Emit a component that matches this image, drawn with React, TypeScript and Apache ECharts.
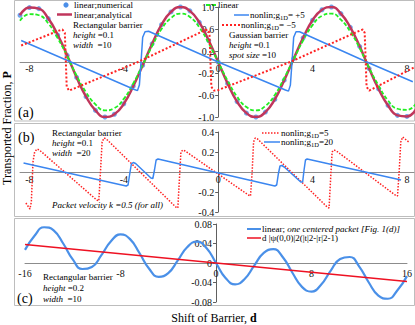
import React, { useEffect, useRef } from 'react';
import * as echarts from 'echarts';

const SERIF = '"Liberation Serif", "Times New Roman", serif';

// ---------- Panel (a) ----------
const D_A = [-8.4, -8.0, -7.6, -7.2, -6.8, -6.4, -6.0, -5.6, -5.2, -4.8, -4.4, -4.0, -3.6, -3.2, -2.8, -2.4, -2.0, -1.6, -1.2, -0.8, -0.4, 0, 0.4, 0.8, 1.2, 1.6, 2.0, 2.4, 2.8, 3.2, 3.6, 4.0, 4.4, 4.8, 5.2, 5.6, 6.0, 6.4, 6.8, 7.2, 7.6, 8.0, 8.4];
const A_NUMERICAL = [0.85, 0.99, 0.97, 0.79, 0.49, 0.12, -0.28, -0.63, -0.88, -1.0, -0.95, -0.76, -0.44, -0.06, 0.33, 0.68, 0.91, 1.0, 0.93, 0.72, 0.39, 0, -0.39, -0.72, -0.93, -1.0, -0.91, -0.68, -0.33, 0.06, 0.44, 0.76, 0.95, 1.0, 0.88, 0.63, 0.28, -0.12, -0.49, -0.79, -0.97, -0.99, -0.85];
const A_ANALYTICAL = [0.85, 0.99, 0.97, 0.79, 0.49, 0.12, -0.28, -0.63, -0.88, -1.0, -0.95, -0.76, -0.44, -0.06, 0.33, 0.68, 0.91, 1.0, 0.93, 0.72, 0.39, 0, -0.39, -0.72, -0.93, -1.0, -0.91, -0.68, -0.33, 0.06, 0.44, 0.76, 0.95, 1.0, 0.88, 0.63, 0.28, -0.12, -0.49, -0.79, -0.97, -0.99, -0.85];
const A_LINEAR = [0.75, 0.87, 0.85, 0.70, 0.43, 0.11, -0.25, -0.55, -0.77, -0.88, -0.84, -0.67, -0.39, -0.05, 0.29, 0.60, 0.80, 0.88, 0.82, 0.63, 0.34, 0, -0.34, -0.63, -0.82, -0.88, -0.80, -0.60, -0.29, 0.05, 0.39, 0.67, 0.84, 0.88, 0.77, 0.55, 0.25, -0.11, -0.43, -0.70, -0.85, -0.87, -0.75];
const A_P5_X = [-8.35, -3.55, -3.42, -3.34, -3.27, -3.2, -3.1, -2.95, 0, 2.85, 2.98, 3.06, 3.13, 3.2, 3.3, 3.45, 6.3, 8.25];
const A_P5_Y = [0.39, -0.50, -0.52, -0.42, 0.0, 0.45, 0.55, 0.56, 0, -0.51, -0.53, -0.42, 0.0, 0.45, 0.55, 0.55, 0.0, -0.36];
const A_M5_X = [-8.35, -6.75, -6.6, -6.5, -6.42, -6.32, -3.4, -0.6, -0.45, -0.37, -0.29, -0.18, 0, 3.05, 6.0, 6.13, 6.21, 6.29, 6.4, 8.3];
const A_M5_Y = [0.30, 0.57, 0.59, 0.53, -0.45, -0.52, 0.0, 0.57, 0.59, 0.53, -0.45, -0.52, -0.51, 0.0, 0.57, 0.59, 0.53, -0.45, -0.52, -0.1];

// ---------- Panel (b) ----------
const B_R5_X = [-8.15, -7.98, -7.92, -7.85, -7.78, -7.68, -7.58, -5.15, -5.06, -4.99, -4.92, -4.84, -4.74, -1.8, -1.71, -1.65, -1.58, -1.5, -1.4, 1.28, 1.37, 1.44, 1.5, 1.57, 1.67, 4.62, 4.7, 4.77, 4.83, 4.91, 5.01, 7.5, 7.6, 7.67, 7.74, 7.82, 7.92, 8.08];
const B_R5_Y = [-0.31, -0.37, -0.30, 0.10, 0.20, 0.23, 0.22, -0.28, -0.29, 0.0, 0.30, 0.34, 0.33, -0.35, -0.36, -0.10, 0.20, 0.22, 0.21, -0.23, -0.24, 0.0, 0.30, 0.34, 0.33, -0.35, -0.36, -0.05, 0.20, 0.22, 0.21, -0.23, -0.24, 0.0, 0.30, 0.35, 0.33, 0.30];
const B_B20_X = [-8.25, -3.9, -3.82, -3.75, -3.68, -3.6, -3.5, -2.85, -2.77, -2.7, -2.63, -2.55, 2.4, 2.48, 2.55, 2.62, 2.7, 2.8, 3.5, 3.58, 3.64, 3.7, 3.77, 7.75];
const B_B20_Y = [0.09, -0.14, -0.13, -0.02, 0.08, 0.095, 0.085, -0.06, -0.065, 0.02, 0.12, 0.13, -0.14, -0.13, -0.02, 0.06, 0.065, 0.05, -0.10, -0.10, 0.02, 0.12, 0.13, -0.08];

// ---------- Panel (c) ----------
const D_C = [-16, -15.2, -14.4, -13.6, -12.8, -12.0, -11.2, -10.4, -9.6, -8.8, -8.0, -7.2, -6.4, -5.6, -4.8, -4.0, -3.2, -2.4, -1.6, -0.8, 0, 0.8, 1.6, 2.4, 3.2, 4.0, 4.8, 5.6, 6.4, 7.2, 8.0, 8.8, 9.6, 10.4, 11.2, 12.0, 12.8, 13.6, 14.4, 15.2, 16];
const C_PACKET = [0.0269, 0.0559, 0.0733, 0.0670, 0.0400, 0.0073, -0.0123, -0.0081, 0.0161, 0.0445, 0.0588, 0.0490, 0.0200, -0.0118, -0.0283, -0.0207, 0.0054, 0.0328, 0.0438, 0.0306, 0, -0.0306, -0.0438, -0.0328, -0.0054, 0.0207, 0.0283, 0.0118, -0.0200, -0.0490, -0.0588, -0.0445, -0.0161, 0.0081, 0.0123, -0.0073, -0.0400, -0.0670, -0.0733, -0.0559, -0.0269];
const C_LINE_X = [-16, 16];
const C_LINE_Y = [0.038, -0.038];

// tick labels
const A_XTICKS = [-8, -4, 0, 4, 8];
const A_YTICKS = [1.0, 0.6, 0.2, -0.2, -0.6, -1.0];
const B_YTICKS = [0.4, 0.2, -0.2, -0.4];
const C_XTICKS = [-16, -8, 0, 8, 16];
const C_YTICKS = [0.08, 0.04, 0, -0.04, -0.08];

const BLUE_DOT = '#4a8ee8';
const ANALYTIC = '#c0365c';
const GREEN = '#22ee22';
const BLUE = '#3b86f0';
const RED = '#ff2222';
const C_BLUE = '#4a90e8';
const C_RED = '#ee1122';

const zip = (xs: number[], ys: number[]) => xs.map((x, i) => [x, ys[i]]);

const labelStyle = { fontFamily: SERIF, fontSize: 10, color: '#111' };

const GA = { left: 20, top: 7, width: 394, height: 110 };
const GB = { left: 20, top: 132, width: 394, height: 80 };
const GC = { left: 25, top: 224, width: 382, height: 78 };

function xAx(grid: number, g: any, min: number, max: number, ymin: number, ymax: number, ticks: number[], margin: number) {
  const zeroY = g.top + g.height * (ymax / (ymax - ymin));
  return {
    type: 'value', gridIndex: grid, min, max, position: 'bottom',
    offset: -(g.top + g.height - zeroY),
    axisLine: { show: true, onZero: false, lineStyle: { color: '#8c8c8c', width: 1 } },
    axisTick: { show: false },
    splitLine: { show: false },
    axisLabel: { ...labelStyle, customValues: ticks, margin },
  };
}
function yAx(grid: number, g: any, xmin: number, xmax: number, min: number, max: number, ticks: number[], fmt: (v: number) => string) {
  const zeroX = g.left + g.width * (-xmin / (xmax - xmin));
  return {
    type: 'value', gridIndex: grid, min, max, position: 'left',
    offset: -(zeroX - g.left),
    axisLine: { show: true, onZero: false, lineStyle: { color: '#606060', width: 1 } },
    axisTick: { show: true, length: 3, customValues: ticks, lineStyle: { color: '#606060' } },
    splitLine: { show: false },
    axisLabel: { ...labelStyle, customValues: ticks, margin: 4, formatter: fmt },
  };
}

const RICH: any = {
  n: { fontFamily: SERIF, fontSize: 9, fill: '#000', lineHeight: 11 },
  i: { fontFamily: SERIF, fontSize: 9, fontStyle: 'italic', fill: '#000', lineHeight: 11 },
  s: { fontFamily: SERIF, fontSize: 6.5, fill: '#000', verticalAlign: 'bottom' },
  p: { fontFamily: SERIF, fontSize: 14, fill: '#000' },
  t: { fontFamily: SERIF, fontSize: 12, fill: '#000' },
  tb: { fontFamily: SERIF, fontSize: 12, fontWeight: 'bold', fill: '#000' },
};

function txt(x: number, y: number, text: string, extra: any = {}) {
  const { align, ...rest } = extra;
  return {
    type: 'text', x, y, silent: true, ...rest,
    style: { text, rich: RICH, fontFamily: SERIF, fontSize: 9, fill: '#000', textAlign: align || 'left', textVerticalAlign: 'middle' },
  };
}
function seg(x1: number, x2: number, y: number, color: string, width: number, dash?: number[]) {
  return {
    type: 'line', silent: true,
    shape: { x1, y1: y, x2, y2: y },
    style: { stroke: color, lineWidth: width, lineDash: dash || null },
  };
}
function frame(y: number, h: number) {
  return { type: 'rect', silent: true, shape: { x: 14.5, y, width: 400, height: h }, style: { fill: 'none', stroke: '#bdbdbd', lineWidth: 1 } };
}

const graphics: any[] = [
  frame(0.5, 120.5),
  frame(123.5, 93),
  frame(218.5, 87),
  // panel (a) left legend
  { type: 'circle', silent: true, shape: { cx: 66, cy: 5, r: 2.6 }, style: { fill: BLUE_DOT } },
  txt(74, 5, '{n|linear;numerical}'),
  seg(57, 72, 14.5, ANALYTIC, 2.5),
  txt(74, 15, '{n|linear;analytical}'),
  txt(73, 25, '{n|Rectangular barrier}'),
  txt(73, 35, '{i|height}{n| =0.1}'),
  txt(73, 45, '{i|width}{n|  =10}'),
  // panel (a) right legend
  seg(206, 217, 5, GREEN, 1.8, [4, 2]),
  txt(218, 5, '{n|linear}'),
  seg(234, 249, 15, BLUE, 1.5),
  txt(250, 15, '{n|nonlin;g}{s|1D}{n|= +5}'),
  seg(222, 240, 25, RED, 2, [2, 2]),
  txt(241, 25, '{n|nonlin;g}{s|1D}{n|= −5}'),
  txt(229, 35, '{n|Gaussian barrier}'),
  txt(229, 45, '{i|height}{n| =0.1}'),
  txt(229, 55, '{i|spot size}{n| =10}'),
  txt(18, 112, '{p|(a)}'),
  // panel (b)
  txt(18, 137, '{p|(b)}'),
  txt(52, 133, '{n|Rectangular barrier}'),
  txt(52, 143, '{i|height}{n| =0.1}'),
  txt(52, 153, '{i|width}{n|  =20}'),
  txt(52, 205, '{i|Packet velocity k =0.5 (for all)}'),
  seg(262, 280, 133, RED, 1.5, [1.5, 1.5]),
  txt(281, 133, '{n|nonlin;g}{s|1D}{n|=5}'),
  seg(264, 280, 142, BLUE, 1.5),
  txt(281, 142, '{n|nonlin;g}{s|1D}{n|=20}'),
  // panel (c)
  seg(247, 261, 229, C_BLUE, 2),
  txt(262, 229, '{n|linear; }{i|one centered packet [Fig. 1(d)]}'),
  seg(247, 261, 238, C_RED, 1.5),
  txt(262, 238, '{n|d |ψ(0,0)|2(|t|2-|r|2-1)}'),
  txt(43, 277, '{n|Rectangular barrier}'),
  txt(43, 288, '{i|height}{n| =0.2}'),
  txt(43, 299, '{i|width}{n|  =10}'),
  txt(17, 298, '{p|(c)}'),
  // axis titles
  txt(7, 128, '{t|Transported Fraction, }{tb|P}', { rotation: Math.PI / 2, align: 'center' }),
  txt(214, 318, '{t|Shift of Barrier, }{tb|d}', { align: 'center' }),
];

const option: any = {
  animation: false,
  backgroundColor: '#ffffff',
  grid: [GA, GB, GC],
  xAxis: [
    xAx(0, GA, -8.4, 8.3, -1, 1, A_XTICKS, 1),
    xAx(1, GB, -8.4, 8.3, -0.4, 0.4, A_XTICKS, 2),
    xAx(2, GC, -16, 16, -0.08, 0.08, C_XTICKS, 5),
  ],
  yAxis: [
    yAx(0, GA, -8.4, 8.3, -1, 1, A_YTICKS, (v) => v.toFixed(1)),
    yAx(1, GB, -8.4, 8.3, -0.4, 0.4, B_YTICKS, (v) => v.toFixed(1)),
    yAx(2, GC, -16, 16, -0.08, 0.08, C_YTICKS, (v) => (v === 0 ? '0' : v.toFixed(2))),
  ],
  series: [
    { name: 'linear;numerical', type: 'scatter', xAxisIndex: 0, yAxisIndex: 0, symbolSize: 5, itemStyle: { color: BLUE_DOT }, data: zip(D_A, A_NUMERICAL) },
    { name: 'linear;analytical', type: 'line', xAxisIndex: 0, yAxisIndex: 0, smooth: true, symbol: 'none', lineStyle: { color: ANALYTIC, width: 2.5 }, data: zip(D_A, A_ANALYTICAL) },
    { name: 'linear', type: 'line', xAxisIndex: 0, yAxisIndex: 0, smooth: true, symbol: 'none', lineStyle: { color: GREEN, width: 1.8, type: [4, 2] }, data: zip(D_A, A_LINEAR) },
    { name: 'nonlin;g1D= +5', type: 'line', xAxisIndex: 0, yAxisIndex: 0, symbol: 'none', lineStyle: { color: BLUE, width: 1.5 }, data: zip(A_P5_X, A_P5_Y) },
    { name: 'nonlin;g1D= -5', type: 'line', xAxisIndex: 0, yAxisIndex: 0, symbol: 'none', lineStyle: { color: RED, width: 2, type: [2, 2] }, data: zip(A_M5_X, A_M5_Y) },
    { name: 'nonlin;g1D=5', type: 'line', xAxisIndex: 1, yAxisIndex: 1, symbol: 'none', lineStyle: { color: RED, width: 1.5, type: [1.5, 1.5] }, data: zip(B_R5_X, B_R5_Y) },
    { name: 'nonlin;g1D=20', type: 'line', xAxisIndex: 1, yAxisIndex: 1, symbol: 'none', lineStyle: { color: BLUE, width: 1.5 }, data: zip(B_B20_X, B_B20_Y) },
    { name: 'linear; one centered packet', type: 'line', xAxisIndex: 2, yAxisIndex: 2, smooth: true, symbol: 'none', lineStyle: { color: C_BLUE, width: 2.2 }, data: zip(D_C, C_PACKET) },
    { name: 'd |psi|', type: 'line', xAxisIndex: 2, yAxisIndex: 2, symbol: 'none', lineStyle: { color: C_RED, width: 1.5 }, data: zip(C_LINE_X, C_LINE_Y) },
  ],
  graphic: { elements: graphics },
};

export default function App() {
  const ref = useRef<HTMLDivElement>(null);
  useEffect(() => {
    const chart = echarts.init(ref.current!, null, { renderer: 'svg' });
    chart.setOption(option);
    return () => chart.dispose();
  }, []);
  return <div ref={ref} style={{ position: 'fixed', left: 0, top: 0, width: 415, height: 325, background: '#fff' }} />;
}
